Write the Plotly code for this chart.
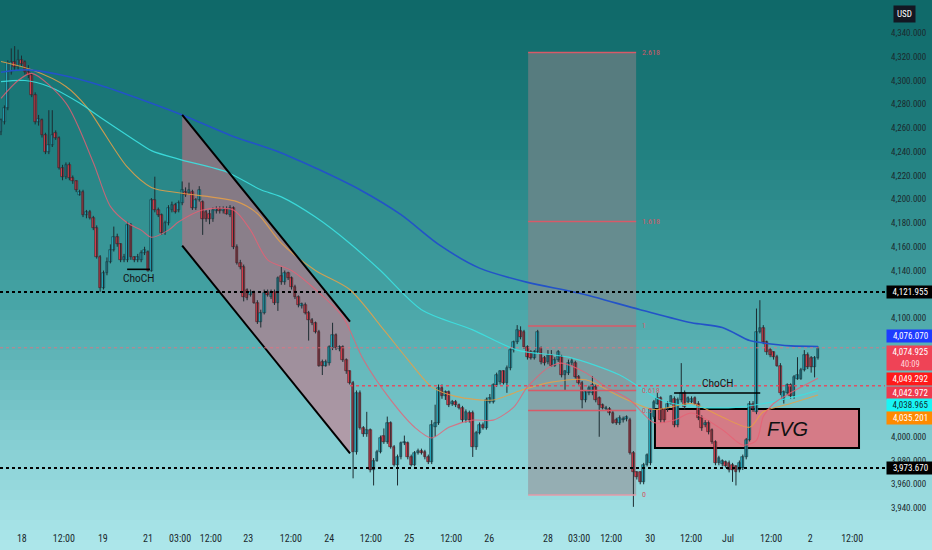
import plotly.graph_objects as go

# ---- candles (one bar per entry) ----
opens = [
    4257, 4265, 4277, 4307, 4316, 4311, 4317, 4316, 4307, 4305,
    4288, 4265, 4267, 4254, 4240, 4246, 4256, 4252, 4226, 4219,
    4229, 4218, 4215, 4204, 4206, 4187, 4189, 4184, 4176, 4151,
    4125, 4138, 4147, 4157, 4168, 4162, 4149, 4149, 4178, 4151,
    4149, 4149, 4155, 4156, 4140, 4199, 4191, 4187, 4172, 4180,
    4191, 4195, 4191, 4197, 4206, 4205, 4206, 4193, 4199, 4198,
    4189, 4188, 4183, 4190, 4192, 4190, 4192, 4187, 4193, 4160,
    4146, 4143, 4124, 4119, 4121, 4113, 4097, 4104, 4122, 4118,
    4122, 4113, 4135, 4130, 4138, 4134, 4126, 4118, 4110, 4111,
    4104, 4098, 4096, 4088, 4063, 4060, 4062, 4075, 4086, 4074,
    4076, 4065, 4055, 4045, 3987, 4037, 4007, 4002, 4006, 3972,
    3980, 3987, 4001, 3996, 4012, 3991, 3976, 3983, 3995, 3995,
    3983, 3976, 3986, 3988, 3987, 3983, 3979, 4008, 4012, 4041,
    4034, 4038, 4028, 4029, 4027, 4024, 4014, 4020, 4020, 3991,
    4003, 4010, 4007, 4029, 4029, 4044, 4046, 4055, 4045, 4058,
    4073, 4080, 4089, 4088, 4076, 4071, 4066, 4071, 4075, 4066,
    4063, 4069, 4060, 4065, 4067, 4052, 4054, 4062, 4062, 4050,
    4045, 4031, 4037, 4037, 4042, 4033, 4027, 4023, 4023, 4020,
    4014, 4012, 4014, 4015, 4014, 3986, 3970, 3970, 3962, 3976,
    3978, 4017, 4028, 4033, 4023, 4023, 4028, 4032, 4010, 4031,
    4037, 4029, 4029, 4033, 4028, 4016, 4010, 4012, 4006, 3996,
    3978, 3977, 3979, 3978, 3976, 3975, 3972, 3974, 3983, 3997,
    4028, 4021, 4088, 4092, 4080, 4073, 4071, 4067, 4060, 4031,
    4037, 4044, 4034, 4049, 4049, 4056, 4069, 4066, 4059, 4066,
]
highs = [
    4268, 4279, 4317, 4327, 4329, 4326, 4321, 4317, 4313, 4306,
    4290, 4271, 4268, 4256, 4275, 4275, 4258, 4253, 4229, 4231,
    4231, 4220, 4216, 4208, 4208, 4191, 4191, 4186, 4178, 4153,
    4140, 4151, 4162, 4177, 4171, 4163, 4154, 4181, 4180, 4152,
    4154, 4157, 4160, 4157, 4201, 4219, 4193, 4188, 4182, 4195,
    4198, 4197, 4199, 4215, 4210, 4214, 4208, 4201, 4211, 4199,
    4191, 4191, 4193, 4194, 4194, 4194, 4194, 4195, 4194, 4162,
    4149, 4145, 4125, 4124, 4123, 4115, 4107, 4124, 4124, 4124,
    4124, 4135, 4143, 4140, 4139, 4135, 4128, 4119, 4113, 4113,
    4106, 4100, 4097, 4090, 4065, 4065, 4077, 4096, 4087, 4077,
    4077, 4066, 4056, 4047, 4039, 4039, 4009, 4021, 4007, 3982,
    3989, 4001, 4007, 4017, 4013, 3993, 3985, 3996, 4001, 3996,
    3985, 3988, 3990, 3990, 3989, 3985, 4014, 4027, 4044, 4044,
    4039, 4039, 4031, 4031, 4028, 4026, 4023, 4022, 4022, 4005,
    4012, 4012, 4033, 4036, 4045, 4054, 4056, 4056, 4060, 4075,
    4081, 4094, 4093, 4090, 4077, 4073, 4073, 4090, 4076, 4068,
    4073, 4073, 4067, 4073, 4069, 4056, 4065, 4066, 4064, 4052,
    4047, 4039, 4043, 4051, 4044, 4034, 4028, 4026, 4025, 4022,
    4016, 4018, 4017, 4018, 4016, 3988, 3971, 3971, 3978, 3986,
    4024, 4031, 4037, 4034, 4024, 4030, 4035, 4034, 4033, 4062,
    4039, 4034, 4034, 4034, 4030, 4018, 4014, 4014, 4007, 3997,
    3984, 3981, 3980, 3980, 3978, 3976, 3980, 3985, 3999, 4030,
    4030, 4108, 4115, 4094, 4081, 4075, 4072, 4069, 4062, 4039,
    4045, 4045, 4052, 4067, 4058, 4073, 4071, 4068, 4068, 4076,
]
lows = [
    4254, 4263, 4275, 4305, 4309, 4309, 4312, 4305, 4302, 4286,
    4263, 4262, 4252, 4238, 4238, 4244, 4250, 4225, 4216, 4217,
    4216, 4213, 4206, 4203, 4185, 4184, 4183, 4174, 4150, 4122,
    4124, 4136, 4146, 4156, 4160, 4147, 4147, 4147, 4149, 4147,
    4147, 4147, 4153, 4139, 4139, 4189, 4185, 4170, 4170, 4178,
    4189, 4188, 4189, 4195, 4202, 4204, 4191, 4191, 4198, 4170,
    4181, 4179, 4181, 4188, 4188, 4188, 4187, 4185, 4158, 4145,
    4141, 4114, 4115, 4118, 4112, 4095, 4092, 4103, 4118, 4116,
    4111, 4106, 4128, 4128, 4132, 4124, 4116, 4109, 4108, 4103,
    4081, 4094, 4087, 4059, 4052, 4059, 4060, 4073, 4073, 4072,
    4063, 4053, 4044, 3965, 3985, 4006, 4000, 4000, 3970, 3959,
    3979, 3986, 3994, 3994, 3990, 3975, 3959, 3981, 3993, 3981,
    3975, 3975, 3985, 3985, 3981, 3977, 3977, 4000, 4010, 4032,
    4031, 4025, 4026, 4025, 4023, 4012, 4012, 4012, 3983, 3989,
    4002, 4006, 4006, 4028, 4028, 4042, 4044, 4044, 4037, 4056,
    4071, 4078, 4082, 4074, 4065, 4065, 4065, 4070, 4061, 4060,
    4061, 4059, 4059, 4063, 4050, 4039, 4052, 4060, 4049, 4044,
    4024, 4029, 4035, 4035, 4029, 4000, 4023, 4022, 4018, 4011,
    4010, 4010, 4012, 4013, 3985, 3941, 3964, 3960, 3960, 3975,
    3976, 4015, 4027, 4012, 4012, 4021, 4027, 4008, 4008, 4029,
    4023, 4028, 4028, 4027, 4014, 4005, 4008, 4002, 3994, 3976,
    3976, 3975, 3974, 3970, 3962, 3959, 3970, 3972, 3981, 3996,
    4021, 4019, 4087, 4078, 4069, 4067, 4065, 4059, 4035, 4028,
    4035, 4032, 4032, 4048, 4048, 4055, 4057, 4054, 4050, 4065,
]
closes = [
    4267, 4277, 4315, 4316, 4311, 4317, 4314, 4307, 4305, 4288,
    4265, 4268, 4254, 4240, 4246, 4254, 4252, 4226, 4219, 4229,
    4218, 4215, 4208, 4206, 4187, 4189, 4184, 4176, 4151, 4125,
    4138, 4147, 4157, 4168, 4162, 4149, 4151, 4178, 4151, 4149,
    4151, 4155, 4157, 4140, 4199, 4191, 4187, 4172, 4180, 4193,
    4195, 4189, 4197, 4208, 4204, 4208, 4193, 4199, 4208, 4183,
    4183, 4183, 4191, 4192, 4190, 4192, 4188, 4193, 4160, 4146,
    4143, 4118, 4117, 4122, 4113, 4097, 4104, 4121, 4119, 4122,
    4113, 4134, 4130, 4138, 4134, 4126, 4118, 4111, 4112, 4104,
    4098, 4096, 4088, 4060, 4060, 4063, 4076, 4086, 4075, 4076,
    4065, 4055, 4045, 3987, 4037, 4007, 4002, 4006, 3972, 3980,
    3987, 3999, 3996, 4012, 3991, 3976, 3983, 3995, 3996, 3983,
    3976, 3986, 3988, 3986, 3983, 3979, 4010, 4012, 4041, 4034,
    4038, 4027, 4029, 4027, 4024, 4014, 4021, 4014, 3991, 4003,
    4010, 4007, 4031, 4033, 4044, 4052, 4055, 4045, 4058, 4073,
    4080, 4090, 4084, 4076, 4067, 4066, 4071, 4088, 4063, 4062,
    4069, 4060, 4065, 4071, 4052, 4055, 4062, 4064, 4050, 4045,
    4031, 4038, 4041, 4044, 4031, 4027, 4024, 4024, 4020, 4012,
    4012, 4016, 4015, 4017, 3986, 3970, 3966, 3962, 3976, 3985,
    4023, 4029, 4033, 4014, 4014, 4028, 4034, 4010, 4031, 4037,
    4025, 4033, 4032, 4028, 4016, 4007, 4012, 4004, 3996, 3978,
    3982, 3980, 3975, 3972, 3972, 3970, 3978, 3983, 3997, 4028,
    4023, 4088, 4092, 4080, 4071, 4069, 4067, 4060, 4037, 4038,
    4044, 4034, 4050, 4052, 4056, 4069, 4059, 4059, 4066, 4074.925,
]

# ---- moving averages (read at selected bars) ----
ma_slow_idx = [0, 8, 17, 29, 41, 53, 67, 82, 93, 105, 117, 128, 140, 154, 169, 187, 202, 211, 219, 223, 231, 239]
ma_slow = [4307, 4309, 4305, 4296, 4284, 4271, 4254, 4239, 4225, 4208, 4187, 4162, 4142, 4130, 4121, 4107,
           4096, 4092, 4081, 4079, 4076.5, 4076.07]
ma_mid_idx = [0, 7, 14, 23, 29, 39, 44, 53, 66, 76, 82, 92, 102, 111, 123, 138, 151, 166, 181, 193, 204, 216,
              225, 234, 239]
ma_mid = [4299, 4300, 4295, 4281, 4269, 4250, 4241, 4233, 4223, 4208, 4202, 4185, 4163, 4140, 4107, 4090, 4073,
          4067, 4052, 4031, 4025, 4025, 4029, 4035, 4038.965]
ma_orange_idx = [0, 9, 19, 25, 29, 37, 44, 53, 69, 75, 82, 92, 102, 112, 119, 126, 133, 144, 152, 161, 171, 181,
                 191, 202, 210, 219, 223, 231, 239]
ma_orange = [4316, 4309, 4295, 4278, 4261, 4227, 4210, 4205, 4198, 4188, 4163, 4140, 4124, 4090, 4065, 4042, 4034,
             4031, 4039, 4046, 4048, 4034, 4023, 4028, 4018, 4008, 4021, 4028, 4035.201]
ma_fast_idx = [0, 5, 9, 19, 27, 32, 37, 41, 44, 49, 52, 59, 68, 73, 78, 85, 92, 100, 106, 114, 121, 126, 131,
               138, 144, 150, 154, 160, 164, 171, 177, 184, 191, 197, 202, 211, 217, 221, 223, 226, 231, 239]
ma_fast = [4285, 4300, 4306, 4281, 4231, 4194, 4180, 4174, 4168, 4174, 4181, 4191, 4191, 4174, 4149, 4140, 4124,
           4101, 4065, 4031, 4008, 3999, 4008, 4014, 4014, 4025, 4042, 4058, 4062, 4054, 4042, 4031, 4012, 4014,
           4020, 4006, 3993, 3997, 4017, 4028, 4037, 4049.292]

# ---- axes labels ----
tick_labels = ["18", "12:00", "19", "21", "03:00", "12:00", "23", "12:00", "24", "12:00", "25", "12:00",
               "26", "28", "03:00", "12:00", "30", "12:00", "Jul", "12:00", "2", "12:00"]
tick_pos = [6.1, 18.4, 29.8, 43.0, 52.4, 61.4, 72.3, 84.8, 96.0, 108.2, 119.4, 131.7,
            142.8, 160.0, 169.1, 178.5, 189.9, 201.9, 212.7, 225.3, 236.7, 249.0]
# price grid labels that are not hidden behind the price tags
price_ticks = [4340, 4320, 4300, 4280, 4260, 4240, 4220, 4200, 4180, 4160, 4140, 4100, 4060, 4000, 3980,
               3960, 3940]

# ---- drawings ----
key_levels = [4121.955, 3973.670]
last_price = 4074.925
level_0618 = 4042.972
fib_low, fib_high = 3951.0, 4093.3
fib_levels = [0, 0.5, 0.618, 1, 1.618, 2.618]
fib_x = (154.2, 185.8)
channel = dict(x0=53.0, x1=102.1, top0=4271, top1=4097, bot0=4161, bot1=3986)
fvg = dict(x0=191.3, x1=251.0, y0=3990.5, y1=4023.4)
choch = [  # (x0, x1, level, label x, label y)
    (36.9, 43.6, 4141.0, 40.1, 4133.5),
    (196.9, 222.1, 4036.8, 209.5, 4044.5),
]
price_tags = [  # (text, y, bg, fg)
    ("4,121.955", 4121.955, "#000000", "#ffffff"),
    ("4,076.070", 4084.8, "#1e3cff", "#ffffff"),
    ("4,074.925<br><span style='font-size:8.5px;color:#ffd6dc'>40:09</span>", 4066.6, "#ef4356", "#ffffff"),
    ("4,049.292", 4048.6, "#ff1a1a", "#ffffff"),
    ("4,042.972", 4036.8, "#ef3a4e", "#ffffff"),
    ("4,038.965", 4026.7, "#19f5f5", "#0f2c30"),
    ("4,035.201", 4015.8, "#ff8a00", "#ffffff"),
    ("3,973.670", 3973.670, "#000000", "#ffffff"),
]

X_RANGE = [-0.29, 258.6]
Y_RANGE = [3925.7, 4367.8]
FONT = "Liberation Sans Narrow, Roboto Condensed, DejaVu Sans Condensed, Roboto, sans-serif"
UP, DOWN = "#27b3c7", "#e8404f"

fig = go.Figure()

# candle wicks
wx, wy = [], []
for i, (h, l) in enumerate(zip(highs, lows)):
    wx += [i, i, None]
    wy += [l, h, None]
fig.add_trace(go.Scatter(x=wx, y=wy, mode="lines", line=dict(color="#1c2c31", width=1),
                         hoverinfo="skip", showlegend=False))

# candle bodies
body_base = [min(o, c) for o, c in zip(opens, closes)]
body_len = [max(abs(c - o), 0.8) for o, c in zip(opens, closes)]
body_col = [UP if c >= o else DOWN for o, c in zip(opens, closes)]
body_edge = ["#173a42" if c >= o else "#3f1a20" for o, c in zip(opens, closes)]
fig.add_trace(go.Bar(x=list(range(len(closes))), y=body_len, base=body_base, width=0.8,
                     marker=dict(color=body_col, line=dict(color=body_edge, width=0.6)),
                     hoverinfo="skip", showlegend=False))

for idx, vals, col, w in [
    (ma_orange_idx, ma_orange, "rgba(232,160,70,0.85)", 1.1),
    (ma_mid_idx, ma_mid, "rgba(60,225,225,0.9)", 1.2),
    (ma_fast_idx, ma_fast, "rgba(232,95,115,0.8)", 1.1),
    (ma_slow_idx, ma_slow, "#2353c8", 1.6),
]:
    fig.add_trace(go.Scatter(x=idx, y=vals, mode="lines", line=dict(color=col, width=w, shape="spline", smoothing=0.8),
                             hoverinfo="skip", showlegend=False))

shapes = []

# vertical background gradient
stops = [(0, (14, 104, 104)), (150, (33, 128, 128)), (300, (70, 163, 165)), (430, (128, 203, 207)), (560, (178, 234, 238))]


def grad(ypx):
    for (a, ca), (b, cb) in zip(stops[:-1], stops[1:]):
        if ypx <= b:
            t = (ypx - a) / (b - a)
            return "rgb(%d,%d,%d)" % tuple(round(ca[i] + (cb[i] - ca[i]) * t) for i in range(3))
    return "rgb(%d,%d,%d)" % stops[-1][1]


for k in range(56):
    y0 = k * 10
    shapes.append(dict(type="rect", xref="paper", yref="paper", x0=-0.01, x1=1.06,
                       y0=1 - (y0 + 11) / 525, y1=1 - y0 / 525, line=dict(width=0),
                       fillcolor=grad(y0 + 5), layer="below"))

# fib box
fib_prices = [fib_low + lv * (fib_high - fib_low) for lv in fib_levels]
shapes.append(dict(type="rect", xref="x", yref="y", x0=fib_x[0], x1=fib_x[1], y0=fib_prices[0], y1=fib_prices[-1],
                   line=dict(width=0), fillcolor="rgba(150,132,138,0.5)", layer="below"))

# descending channel fill
c = channel
shapes.append(dict(type="path", xref="x", yref="y", layer="below", line=dict(width=0),
                   fillcolor="rgba(222,105,128,0.5)",
                   path="M %s,%s L %s,%s L %s,%s L %s,%s Z" % (c["x0"], c["top0"], c["x1"], c["top1"],
                                                              c["x1"], c["bot1"], c["x0"], c["bot0"])))

# FVG box
shapes.append(dict(type="rect", xref="x", yref="y", x0=fvg["x0"], x1=fvg["x1"], y0=fvg["y0"], y1=fvg["y1"],
                   line=dict(color="#000000", width=2), fillcolor="rgba(224,112,124,0.88)", layer="below"))

# fib level lines
for lv, p in zip(fib_levels, fib_prices):
    shapes.append(dict(type="line", xref="x", yref="y", x0=fib_x[0], x1=fib_x[1], y0=p, y1=p,
                       line=dict(color="#d85a68" if lv else "#e59aa8", width=1.5)))

# channel borders
shapes.append(dict(type="line", xref="x", yref="y", x0=c["x0"], x1=c["x1"], y0=c["top0"], y1=c["top1"],
                   line=dict(color="#000000", width=2)))
shapes.append(dict(type="line", xref="x", yref="y", x0=c["x0"], x1=c["x1"], y0=c["bot0"], y1=c["bot1"],
                   line=dict(color="#000000", width=2)))

# horizontal levels
for lvl in key_levels:
    shapes.append(dict(type="line", xref="paper", yref="y", x0=0, x1=1, y0=lvl, y1=lvl,
                       line=dict(color="#000000", width=2, dash="dot")))
shapes.append(dict(type="line", xref="paper", yref="y", x0=0, x1=1, y0=last_price, y1=last_price,
                   line=dict(color="rgba(235,110,125,0.8)", width=1, dash="dot")))
shapes.append(dict(type="line", xref="x", yref="y", x0=c["x1"], x1=X_RANGE[1], y0=level_0618, y1=level_0618,
                   line=dict(color="rgba(235,70,90,0.9)", width=1.3, dash="dot")))

# ChoCH lines
for x0, x1, lvl, tx, ty in choch:
    shapes.append(dict(type="line", xref="x", yref="y", x0=x0, x1=x1, y0=lvl, y1=lvl,
                       line=dict(color="#000000", width=1.6)))

annotations = []
for x0, x1, lvl, tx, ty in choch:
    annotations.append(dict(x=tx, y=ty, xref="x", yref="y", text="ChoCH", showarrow=False,
                            font=dict(family="Roboto, sans-serif", size=10, color="#111111")))

for lv, p in zip(fib_levels, fib_prices):
    annotations.append(dict(x=fib_x[1], y=p, xref="x", yref="y", text=str(lv), showarrow=False,
                            xanchor="left", xshift=4, font=dict(family=FONT, size=8, color="#d05868")))

annotations.append(dict(x=(fvg["x0"] + fvg["x1"]) / 2 + 9, y=(fvg["y0"] + fvg["y1"]) / 2, xref="x", yref="y",
                        text="<i>FVG</i>", showarrow=False,
                        font=dict(family="Liberation Sans, Arial, sans-serif", size=20, color="#111111")))

for text, y, bg, fg in price_tags:
    annotations.append(dict(x=1, y=y, xref="paper", yref="y", text=text, showarrow=False, xanchor="left",
                            xshift=1, width=45, align="center", bgcolor=bg, borderpad=1,
                            font=dict(family=FONT, size=9, color=fg)))

annotations.append(dict(x=1, y=1, xref="paper", yref="paper", text="USD", showarrow=False, xanchor="left",
                        yanchor="top", xshift=8, yshift=-5, bgcolor="#131722", borderpad=3,
                        font=dict(family=FONT, size=9, color="#ffffff")))

fig.update_layout(
    width=932, height=550,
    margin=dict(l=0, r=47, t=0, b=25),
    paper_bgcolor="#4aa5a7", plot_bgcolor="rgba(0,0,0,0)",
    shapes=shapes, annotations=annotations,
    showlegend=False, hovermode=False, bargap=0,
    xaxis=dict(range=X_RANGE, tickvals=tick_pos, ticktext=tick_labels, showgrid=False, zeroline=False,
               showline=False, ticks="", automargin=False,
               tickfont=dict(family=FONT, size=10, color="#1b2a2e"), ticklabelstandoff=6),
    yaxis=dict(range=Y_RANGE, side="right", tickvals=price_ticks, tickformat=",.3f", showgrid=False,
               zeroline=False, showline=False, ticks="", automargin=False,
               tickfont=dict(family=FONT, size=9, color="#1b2a2e"), ticklabelstandoff=5),
)

fig.write_html("out.html", config={"displayModeBar": False},
               post_script="document.body.style.margin='0';document.body.style.overflow='hidden';")
